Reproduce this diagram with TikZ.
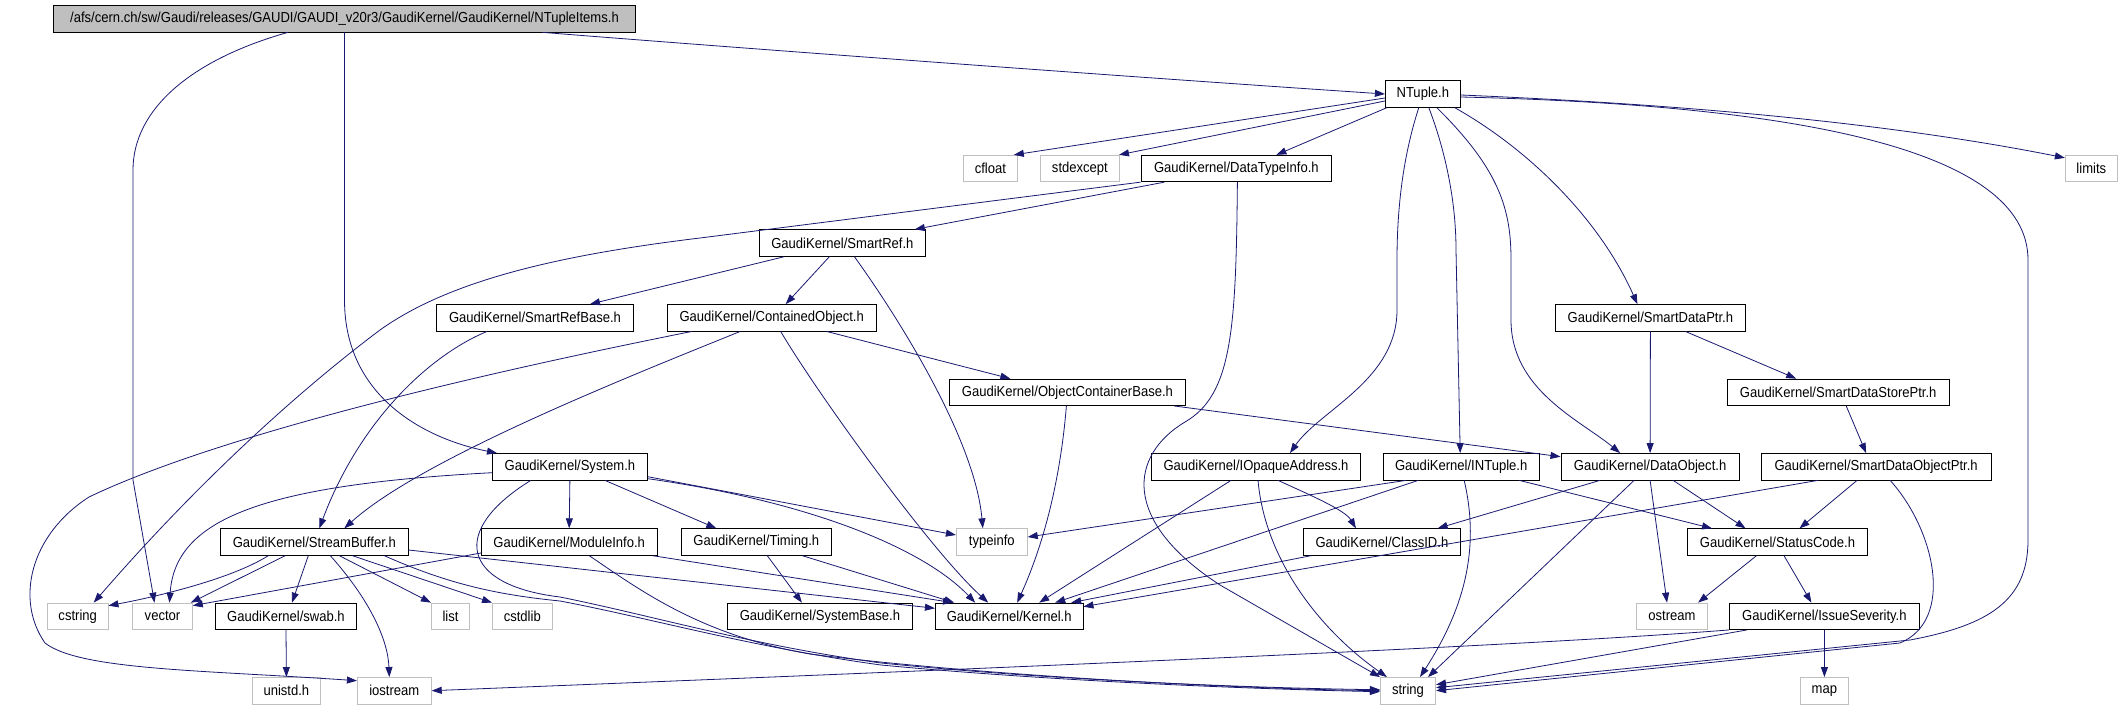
\documentclass[tikz,border=0pt]{standalone}
\usepackage{fontspec}
\setmainfont{Liberation Sans}[FakeStretch=0.9]
\usetikzlibrary{arrows.meta}
\definecolor{edgeblue}{HTML}{191970}
\definecolor{sysgray}{HTML}{BFBFBF}
\definecolor{rootgray}{HTML}{BFBFBF}
\newcommand\nodefont{\fontsize{14.5}{16}\selectfont}
\tikzset{
  box/.style={draw=black, line width=0.8pt, minimum height=26.5pt, inner sep=0pt, font=\nodefont, anchor=center},
  sys/.style={box, draw=sysgray},
  e/.style={draw=edgeblue, line width=0.8pt, -{Triangle[length=10pt,width=7pt]}},
}
\begin{document}
\begin{tikzpicture}[x=1pt, y=-1pt]
\useasboundingbox (0,0) rectangle (2121,709);
\fill[white] (0,0) rectangle (2121,709);
% nodes
\node[box, fill=rootgray, minimum width=582pt] (root) at (344.5,18.7) {/afs/cern.ch/sw/Gaudi/releases/GAUDI/GAUDI\_v20r3/GaudiKernel/GaudiKernel/NTupleItems.h};
\node[box, minimum width=75pt] (ntuple) at (1422.8,94) {NTuple.h};
\node[sys, minimum width=54pt] (cfloat) at (990.4,168.5) {cfloat};
\node[sys, minimum width=79.4pt] (stdexcept) at (1079.9,168.5) {stdexcept};
\node[box, minimum width=190.7pt] (dti) at (1236.4,168.5) {GaudiKernel/DataTypeInfo.h};
\node[sys, minimum width=52pt] (limits) at (2091.3,168.5) {limits};
\node[box, minimum width=166pt] (sref) at (842.4,243) {GaudiKernel/SmartRef.h};
\node[box, minimum width=197pt] (srefbase) at (535,317.8) {GaudiKernel/SmartRefBase.h};
\node[box, minimum width=209.3pt] (cobj) at (771.7,317.8) {GaudiKernel/ContainedObject.h};
\node[box, minimum width=190pt] (sdp) at (1650.4,317.8) {GaudiKernel/SmartDataPtr.h};
\node[box, minimum width=236.6pt] (ocb) at (1067.4,392.3) {GaudiKernel/ObjectContainerBase.h};
\node[box, minimum width=222.5pt] (sdsp) at (1838.2,392.3) {GaudiKernel/SmartDataStorePtr.h};
\node[box, minimum width=155pt] (system) at (569.9,466.7) {GaudiKernel/System.h};
\node[box, minimum width=209.4pt] (ioa) at (1256,466.7) {GaudiKernel/IOpaqueAddress.h};
\node[box, minimum width=156.3pt] (intuple) at (1461.2,466.7) {GaudiKernel/INTuple.h};
\node[box, minimum width=178.4pt] (dobj) at (1650.1,466.7) {GaudiKernel/DataObject.h};
\node[box, minimum width=230.4pt] (sdop) at (1876.1,466.7) {GaudiKernel/SmartDataObjectPtr.h};
\node[box, minimum width=187.5pt] (sbuf) at (314.3,542) {GaudiKernel/StreamBuffer.h};
\node[box, minimum width=175.8pt] (modinfo) at (569.2,542) {GaudiKernel/ModuleInfo.h};
\node[box, minimum width=150pt] (timing) at (756.3,542) {GaudiKernel/Timing.h};
\node[sys, minimum width=71pt] (typeinfo) at (991.8,542) {typeinfo};
\node[box, minimum width=156.6pt] (classid) at (1381.9,542) {GaudiKernel/ClassID.h};
\node[box, minimum width=180.2pt] (status) at (1777.5,542) {GaudiKernel/StatusCode.h};
\node[sys, minimum width=60.7pt] (cstring) at (77.7,616.3) {cstring};
\node[sys, minimum width=59.8pt] (vector) at (162.5,616.3) {vector};
\node[box, minimum width=140.7pt] (swab) at (286,616.3) {GaudiKernel/swab.h};
\node[sys, minimum width=38.3pt] (list) at (450.5,616.3) {list};
\node[sys, minimum width=59.8pt] (cstdlib) at (522.3,616.3) {cstdlib};
\node[box, minimum width=184.3pt] (sysbase) at (819.9,616.3) {GaudiKernel/SystemBase.h};
\node[box, minimum width=147.7pt] (kernel) at (1009.2,616.3) {GaudiKernel/Kernel.h};
\node[sys, minimum width=71.3pt] (ostream) at (1672,616.3) {ostream};
\node[box, minimum width=190.3pt] (severity) at (1824.4,616.3) {GaudiKernel/IssueSeverity.h};
\node[sys, minimum width=68.3pt] (unistd) at (286.4,690.7) {unistd.h};
\node[sys, minimum width=74pt] (iostream) at (394.3,690.7) {iostream};
\node[sys, minimum width=55.3pt] (string) at (1408,690.7) {string};
\node[sys, minimum width=47.8pt] (map) at (1824.4,690.7) {map};
% root
\draw[e] ([xshift=-56.5pt]root.south) .. controls (190,60) and (133,110) .. (133,170) -- (133,480) -- ([xshift=-8pt]vector.north);
\draw[e] (root.south) -- (344.5,300) .. controls (344.5,400) and (430,440) .. ([xshift=5pt]system.north west);
\draw[e] ([xshift=198pt]root.south) .. controls (700,45) and (1100,75) .. (ntuple.west);
% NTuple
\draw[e] ([yshift=-4pt]ntuple.west) -- ([xshift=-4pt]cfloat.north east);
\draw[e] ([yshift=-7pt]ntuple.west) -- ([xshift=-1pt]stdexcept.north east);
\draw[e] ([xshift=2pt]ntuple.south west) -- ([xshift=40pt]dti.north);
\draw[e] ([yshift=-1pt]ntuple.east) .. controls (1700,105) and (1900,125) .. ([yshift=-3pt]limits.north west);
\draw[e] ([yshift=-3pt]ntuple.east) .. controls (1800,105) and (2028,150) .. (2028,260) -- (2028,540) .. controls (2028,600) and (1990,625) .. (1910,640) -- ([yshift=3pt]string.east);
\draw[e] ([xshift=-6pt]ntuple.south east) .. controls (1530,150) and (1600,220) .. ([xshift=-13pt]sdp.north);
\draw[e] ([xshift=14pt]ntuple.south) .. controls (1500,170) and (1511,210) .. (1511,260) -- (1511,320) .. controls (1511,390) and (1580,420) .. ([xshift=-30pt]dobj.north);
\draw[e] ([xshift=6pt]ntuple.south) .. controls (1445,150) and (1456,200) .. (1456,250) -- ([xshift=-1pt]intuple.north);
\draw[e] ([xshift=-4pt]ntuple.south) .. controls (1405,150) and (1397,200) .. (1397,260) -- (1397,310) .. controls (1397,380) and (1320,410) .. ([xshift=34pt]ioa.north);
% DataTypeInfo
\draw[e] ([xshift=1pt]dti.south) .. controls (1236,330) and (1232,395) .. (1185,422) .. controls (1130,455) and (1120,520) .. (1220,585) -- (string.north west);
\draw[e] ([xshift=-72pt]dti.south) -- ([xshift=-11pt]sref.north east);
\draw[e] (dti.south west) -- (700,238) .. controls (560,255) and (450,280) .. (380,330) .. controls (300,390) and (200,480) .. ([xshift=16pt]cstring.north);
% SmartRef
\draw[e] ([xshift=-58pt]sref.south) -- ([xshift=55pt]srefbase.north);
\draw[e] ([xshift=-13pt]sref.south) -- ([xshift=14pt]cobj.north);
\draw[e] ([xshift=12pt]sref.south) .. controls (900,320) and (975,440) .. ([xshift=-9pt]typeinfo.north);
% SmartRefBase
\draw[e] ([xshift=-48pt]srefbase.south) .. controls (430,355) and (360,420) .. ([xshift=5pt]sbuf.north);
% ContainedObject
\draw[e] ([xshift=55pt]cobj.south) -- ([xshift=-57pt]ocb.north);
\draw[e] ([xshift=9pt]cobj.south) .. controls (815,390) and (930,550) .. ([xshift=-21pt]kernel.north);
\draw[e] ([xshift=-31.5pt]cobj.south) .. controls (620,380) and (420,460) .. ([xshift=30pt]sbuf.north);
\draw[e] ([xshift=-80pt]cobj.south) .. controls (600,350) and (250,420) .. (89,497) .. controls (30,535) and (15,600) .. (45,643) .. controls (80,670) and (200,670) .. ([yshift=10pt]iostream.west);
% ObjectContainerBase
\draw[e] ([xshift=-12pt]ocb.south east) -- ([yshift=10pt]dobj.west);
\draw[e] ([xshift=-1pt]ocb.south) .. controls (1062,460) and (1050,530) .. ([xshift=8pt]kernel.north);
% System
\draw[e] ([yshift=-6pt]system.west) .. controls (260,485) and (175,520) .. ([xshift=7pt]vector.north);
\draw[e] (system.south) -- (modinfo.north);
\draw[e] ([xshift=35pt]system.south) -- ([xshift=-40pt]timing.north);
\draw[e] ([yshift=-10pt]system.east) -- ([yshift=7pt]typeinfo.west);
\draw[e] ([yshift=-12pt]system.east) .. controls (800,500) and (920,545) .. ([xshift=-34pt]kernel.north);
\draw[e] ([xshift=-39pt]system.south) .. controls (450,530) and (460,585) .. (560,597) .. controls (650,615) and (750,645) .. (881,663) .. controls (1050,680) and (1250,688) .. ([yshift=1pt]string.west);
% StreamBuffer
\draw[e] ([xshift=-46pt]sbuf.south) .. controls (230,580) and (150,598) .. ([yshift=-3pt]cstring.north east);
\draw[e] ([xshift=-29pt]sbuf.south) -- ([xshift=-2pt]vector.north east);
\draw[e] ([xshift=-6pt]sbuf.south) -- ([xshift=6pt]swab.north);
\draw[e] ([xshift=16pt]sbuf.south) .. controls (370,600) and (388,640) .. ([xshift=-5pt]iostream.north);
\draw[e] ([xshift=25pt]sbuf.south) -- (list.north west);
\draw[e] ([xshift=38pt]sbuf.south) -- (cstdlib.north west);
\draw[e] ([yshift=-8pt]sbuf.east) -- ([yshift=8pt]kernel.west);
\draw[e] ([xshift=70pt]sbuf.south) .. controls (450,585) and (500,595) .. (560,601) .. controls (650,618) and (750,647) .. (881,665) .. controls (1050,681) and (1250,689) .. ([yshift=-1pt]string.west);
% ModuleInfo
\draw[e] ([yshift=-11pt]modinfo.west) -- ([yshift=-3pt]vector.north east);
\draw[e] ([xshift=-5pt]modinfo.south east) -- ([xshift=18pt]kernel.north west);
\draw[e] ([xshift=20pt]modinfo.south) .. controls (640,590) and (700,635) .. (810,654) .. controls (950,672) and (1200,688) .. (string.west);
% Timing
\draw[e] ([xshift=11pt]timing.south) -- ([xshift=-18pt]sysbase.north);
\draw[e] ([xshift=46pt]timing.south) -- ([xshift=-55pt]kernel.north);
% IOpaqueAddress
\draw[e] ([xshift=-25pt]ioa.south) -- ([xshift=30pt]kernel.north);
\draw[e] ([xshift=22pt]ioa.south) .. controls (1310,495) and (1345,510) .. ([xshift=-26pt]classid.north);
\draw[e] ([xshift=2pt]ioa.south) .. controls (1265,560) and (1320,630) .. ([xshift=7pt]string.north west);
% INTuple
\draw[e] ([xshift=-55pt]intuple.south) -- ([yshift=5pt]typeinfo.east);
\draw[e] ([xshift=-43pt]intuple.south) -- ([xshift=46pt]kernel.north);
\draw[e] ([xshift=3pt]intuple.south) .. controls (1478,540) and (1470,600) .. ([xshift=12pt]string.north);
\draw[e] ([xshift=58pt]intuple.south) -- ([xshift=25pt]status.north west);
% DataObject
\draw[e] ([xshift=-50pt]dobj.south) -- ([xshift=-23pt]classid.north east);
\draw[e] ([xshift=-16pt]dobj.south) -- ([xshift=-8pt]string.north east);
\draw[e] (dobj.south) -- ([xshift=-5pt]ostream.north);
\draw[e] ([xshift=23pt]dobj.south) -- ([xshift=-32pt]status.north);
% SmartDataObjectPtr
\draw[e] ([xshift=-58pt]sdop.south) -- ([yshift=-4pt]kernel.north east);
\draw[e] ([xshift=-19pt]sdop.south) -- ([xshift=22pt]status.north);
\draw[e] ([xshift=14pt]sdop.south) .. controls (1935,530) and (1955,620) .. (1900,643) -- (string.east);
% ClassID
\draw[e] ([xshift=8pt]classid.south west) -- ([xshift=62pt]kernel.north);
% StatusCode
\draw[e] ([xshift=-21pt]status.south) -- ([xshift=-10pt]ostream.north east);
\draw[e] ([xshift=6.5pt]status.south) -- ([xshift=-13pt]severity.north);
% IssueSeverity
\draw[e] (severity.south west) .. controls (1500,648) and (900,672) .. (iostream.east);
\draw[e] ([xshift=18pt]severity.south west) -- ([yshift=6pt]string.east);
\draw[e] (severity.south) -- (map.north);
% swab
\draw[e] (swab.south) -- (unistd.north);
% SmartDataPtr
\draw[e] (sdp.south) -- (dobj.north);
\draw[e] ([xshift=35pt]sdp.south) -- ([xshift=-42pt]sdsp.north);
% SmartDataStorePtr
\draw[e] ([xshift=8pt]sdsp.south) -- ([xshift=-10pt]sdop.north);
\end{tikzpicture}
\end{document}
